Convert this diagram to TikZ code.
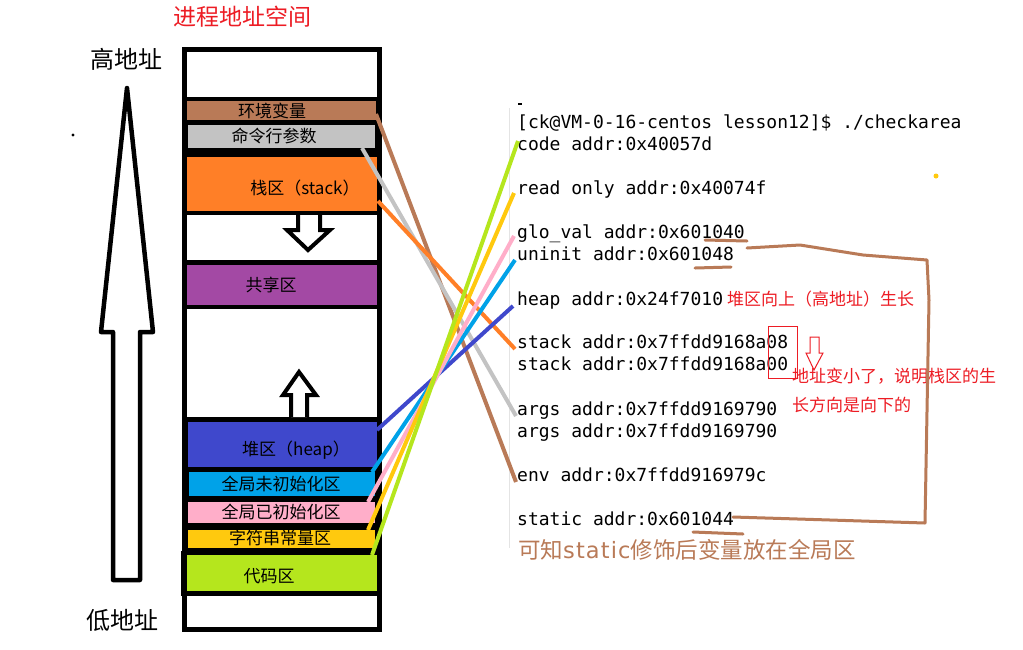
\documentclass[tikz,border=0pt]{standalone}
\usepackage{fontspec}
\newfontfamily\cjk{Noto Sans CJK SC}
\newfontfamily\mono{DejaVu Sans Mono}
\newfontfamily\widelat{DejaVu Sans}[LetterSpace=5]
\newcommand\myfs[1]{\fontsize{#1}{#1}\selectfont}
\definecolor{cbrown}{HTML}{B97A57}
\definecolor{cgray}{HTML}{C3C3C3}
\definecolor{corange}{HTML}{FF7F27}
\definecolor{cpurple}{HTML}{A349A4}
\definecolor{cblue}{HTML}{3F48CC}
\definecolor{ccyan}{HTML}{00A2E8}
\definecolor{cpink}{HTML}{FFAEC9}
\definecolor{cyellow}{HTML}{FFC90E}
\definecolor{clime}{HTML}{B5E61D}
\definecolor{cred}{HTML}{ED1C24}
\definecolor{cline}{HTML}{E4E4E4}
\begin{document}
\begin{tikzpicture}[x=1pt,y=-1pt,
  lbl/.style={font=\cjk\myfs{17}, text=black, inner sep=0pt},
  side/.style={font=\cjk\myfs{24}, text=black, inner sep=0pt},
  term/.style={font=\mono\myfs{18}, text=black, anchor=base west, inner sep=0pt},
  note/.style={font=\cjk\myfs{17}, text=cred, anchor=west, inner sep=0pt},
  conn/.style={line width=4pt},
  hollow/.style={draw=black, fill=white, line width=4pt, line join=miter},
  handline/.style={draw=cbrown, line width=3pt, line cap=round, line join=round}]
\useasboundingbox (0,0) rectangle (1023,649);
\fill[white] (0,0) rectangle (1023,649);

% title
\node[font=\cjk\myfs{23}, text=cred, inner sep=0pt] (title) at (242,17) {进程地址空间};

% big address arrow
\node[side] (hi) at (126,59) {高地址};
\node[side] (lo) at (122,620) {低地址};
\draw[line width=4.5pt, line join=round, fill=white]
  (113,580) -- (113,332) -- (101,332) -- (127,88) -- (153,332) -- (140,332) -- (140,580) -- cycle;
\fill[black] (73,135) circle (1.6);

% memory column
\fill[black] (182,47) rectangle (382,632);
\fill[black] (181,551) rectangle (187,596);
\fill[white] (187,52) rectangle (377,97);
\fill[cbrown] (187,101) rectangle (376,120);
\fill[cgray] (188,125) rectangle (375,148);
\fill[corange] (187,157) rectangle (377,211);
\fill[white] (187,215) rectangle (377,260);
\fill[cpurple] (187,265) rectangle (377,305);
\fill[white] (187,309) rectangle (377,417);
\fill[cblue] (188,422) rectangle (377,467);
\fill[ccyan] (189,472) rectangle (375,496);
\fill[cpink] (188,502) rectangle (375,523);
\fill[cyellow] (188,530) rectangle (375,548);
\fill[clime] (187,555) rectangle (377,591);
\fill[white] (187,596) rectangle (377,627);

\node[lbl] (tenv) at (272,110.5) {环境变量};
\node[lbl] (targ) at (274,136) {命令行参数};
\node[lbl] (tstk) at (305,188) {栈区（stack）};
\node[lbl] (tshr) at (271,285) {共享区};
\node[lbl] (theap) at (296,450) {堆区（heap）};
\node[lbl] (tunin) at (281,484) {全局未初始化区};
\node[lbl] (tglo) at (281,512) {全局已初始化区};
\node[lbl] (tro) at (280,538) {字符串常量区};
\node[lbl] (tcode) at (269,576) {代码区};

% growth arrows inside the column
\draw[hollow] (298,215) -- (298,230) -- (287,230) -- (308,250) -- (330,230) -- (320,230) -- (320,215);
\draw[hollow] (291,417) -- (291,395) -- (283,395) -- (299,372) -- (316,395) -- (307,395) -- (307,417);

% terminal
\draw[cline, line width=1pt] (509,108) -- (509,548);
\draw[black, line width=1.5pt] (518,104) -- (522,104);
\node[term] (l0) at (517,128) {[ck@VM-0-16-centos lesson12]\$ ./checkarea};
\node[term] (l1) at (517,150) {code addr:0x40057d};
\node[term] (l2) at (517,194.5) {read only addr:0x40074f};
\node[term] (l3) at (517,238.5) {glo\_val addr:0x601040};
\node[term] (l4) at (517,260.5) {uninit addr:0x601048};
\node[term] (l5) at (517,305) {heap addr:0x24f7010};
\node[term] (l6) at (517,348.5) {stack addr:0x7ffdd9168a08};
\node[term] (l7) at (517,370.5) {stack addr:0x7ffdd9168a00};
\node[term] (l8) at (517,415) {args addr:0x7ffdd9169790};
\node[term] (l9) at (517,437) {args addr:0x7ffdd9169790};
\node[term] (l10) at (517,481) {env addr:0x7ffdd916979c};
\node[term] (l11) at (517,525) {static addr:0x601044};

% connector end points
\coordinate (envS) at (376,114);  \coordinate (envE) at (516,482);
\coordinate (argS) at (362,148);  \coordinate (argE) at (516,416);
\coordinate (stkS) at (378,201);  \coordinate (stkE) at (515,349);
\coordinate (heapS) at (377,430); \coordinate (heapE) at (513,306);
\coordinate (uninS) at (372,472); \coordinate (uninE) at (515,260);
\coordinate (gloS) at (368,502);  \coordinate (gloE) at (514,236);
\coordinate (roS) at (368,530);   \coordinate (roE) at (514,193);
\coordinate (codeS) at (372,555); \coordinate (codeE) at (518,141);

\draw[conn, cbrown] (envS) -- (envE);
\draw[conn, cgray] (argS) -- (argE);
\draw[conn, corange] (stkS) -- (stkE);
\draw[conn, cblue] (heapS) -- (heapE);
\draw[conn, ccyan] (uninS) -- (uninE);
\draw[conn, cpink] (gloS) -- (gloE);
\draw[conn, cyellow] (roS) -- (roE);
\draw[conn, clime] (codeS) -- (codeE);

% red annotations
\node[note] (n1) at (727,299.5) {堆区向上（高地址）生长};
\draw[cred, line width=1pt] (768,326) rectangle (797,378);
\draw[cred, line width=1pt, fill=white] (810,337) -- (819,337) -- (819,353) -- (823,353) -- (814,370) -- (806,353) -- (810,353) -- cycle;
\node[note] (n2) at (792,376) {地址变小了，说明栈区的生};
\node[note] (n3) at (792,405) {长方向是向下的};

% brown hand annotations
\draw[handline] (705,240) -- (747,241);
\draw[handline] (695,268) -- (731,267);
\draw[handline] (693,532) -- (743,534);
\draw[handline] (747,248) -- (800,245) -- (863,255) -- (927,260) -- (929,300) -- (925,523) -- (830,520) -- (733,517);
\node[font=\cjk\myfs{22.5}, text=cbrown, anchor=west, inner sep=0pt] (concl) at (518,550) {可知{\widelat static}修饰后变量放在全局区};

\fill[cyellow] (936,176) circle (2.5);
\end{tikzpicture}
\end{document}
